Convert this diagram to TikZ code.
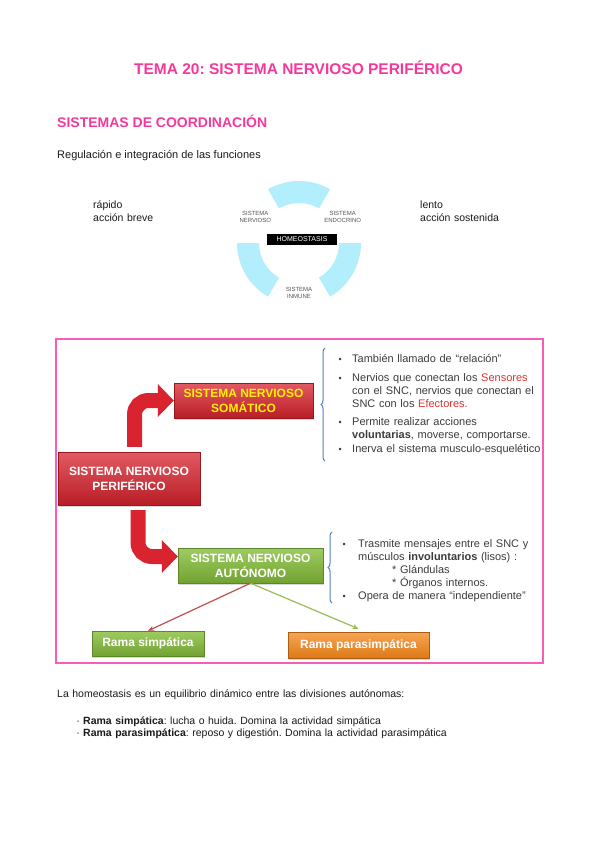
\documentclass[tikz,border=0pt]{standalone}
\usepackage{fontspec}
\setmainfont{Liberation Sans}
\usepackage{tikz}
\usetikzlibrary{positioning,arrows.meta,calc,shadows,decorations.pathreplacing}
\frenchspacing
\definecolor{ink}      {HTML}{1A1A1A}
\definecolor{hotpink}  {HTML}{F5399C}
\definecolor{pinkline} {HTML}{F55DB8}
\definecolor{ringblue} {HTML}{B2EEFC}
\definecolor{boxred}   {HTML}{D9232E}
\definecolor{boxgreen} {HTML}{86BF3A}
\definecolor{boxorange}{HTML}{F5871A}
\definecolor{lemon}    {HTML}{FFF200}
\definecolor{braceblue}{HTML}{4F81BD}
\definecolor{snred}    {HTML}{E0322F}
\definecolor{lnred}    {HTML}{C0504D}
\definecolor{lngreen}  {HTML}{9BBB59}
\definecolor{softink}  {HTML}{555555}
\tikzset{
  every node/.style={inner sep=0pt},
  % --- text
  body/.style  = {font=\fontsize{10.5}{13}\selectfont, text=ink, anchor=base west},
  para/.style  = {body, text width=200pt, align=left},
  slide/.style = {font=\fontsize{11}{13.2}\selectfont, text=ink!85, anchor=base west,
                  text width=210pt, align=left},
  bul/.style   = {font=\fontsize{9}{13}\selectfont, text=ink!85, anchor=base east},
  tiny/.style  = {font=\fontsize{6}{7}\selectfont, text=softink, align=center},
  % --- boxes
  pbox/.style     = {font=\fontsize{12}{15}\selectfont\bfseries, align=center, text=white,
                     line width=0.4pt,
                     drop shadow={opacity=.3, shadow xshift=1pt, shadow yshift=-1.5pt}},
  redbox/.style   = {pbox, top color=boxred!75!white, bottom color=boxred!85!black,
                     draw=boxred!70!black},
  greenbox/.style = {pbox, top color=boxgreen!80!white, bottom color=boxgreen!85!black,
                     draw=boxgreen!70!black},
  orangebox/.style= {pbox, top color=boxorange!75!white, bottom color=boxorange!90!black,
                     draw=boxorange!70!black},
  % --- edges
  fat/.style    = {draw=boxred, line width=15pt, rounded corners=14pt,
                   -{Triangle[length=16pt,width=32pt]}},
  branch/.style = {-{Stealth[length=6pt,width=5pt]}, line width=1.2pt},
  brc/.style    = {draw=braceblue, line width=1pt, decorate,
                   decoration={brace, amplitude=4pt}},
}

\begin{document}
\begin{tikzpicture}[x=1pt,y=1pt]
  \fill[white] (0,0) rectangle (599,-848);
  \useasboundingbox (0,0) rectangle (599,-848);

  % headings
  \node[font=\fontsize{15.5}{18}\selectfont\bfseries, text=hotpink] (title) at (298.5,-68)
    {TEMA 20: SISTEMA NERVIOSO PERIFÉRICO};
  \node[body, font=\fontsize{14}{16}\selectfont\bfseries, text=hotpink] (coord) at (57,-128)
    {SISTEMAS DE COORDINACIÓN};
  \node[body, font=\fontsize{11}{13}\selectfont] (regul) at (57,-158)
    {Regulación e integración de las funciones};
  \node[para] (fast) at (93,-208) {rápido\\acción breve};
  \node[para] (slow) at (420,-208) {lento\\acción sostenida};

  % homeostasis ring
  \coordinate (hc) at (299,-243);
  \foreach \a/\b in {60/120,180/240,300/360}
    \fill[ringblue] ($(hc)+(\a:62)$) arc[start angle=\a, end angle=\b, radius=62]
      -- ($(hc)+(\b:40)$) arc[start angle=\b, end angle=\a, radius=40] -- cycle;
  \node[tiny] (nerv) at ($(hc)+(149:51)$) {SISTEMA\\NERVIOSO};
  \node[tiny] (endo) at ($(hc)+(31:51)$) {SISTEMA\\ENDOCRINO};
  \node[tiny] (inmu) at ($(hc)+(270:50)$) {SISTEMA\\INMUNE};
  \node[fill=black, text=white, font=\fontsize{7}{8}\selectfont, minimum width=70pt,
        minimum height=11pt] (homeo) at (302,-239.5) {HOMEOSTASIS};

  % slide
  \draw[pinkline, line width=1.6pt] (56,-339) rectangle (543,-663);
  \node[redbox, minimum width=142pt, minimum height=53pt] (pns) at (129,-478.5)
    {SISTEMA NERVIOSO\\PERIFÉRICO};
  \node[redbox, text=lemon, minimum width=139pt, minimum height=35pt] (som) at (243.5,-400.5)
    {SISTEMA NERVIOSO\\SOMÁTICO};
  \node[greenbox, minimum width=145pt, minimum height=35pt] (aut) at (250.5,-565.5)
    {SISTEMA NERVIOSO\\AUTÓNOMO};
  \node[greenbox, minimum width=112pt, minimum height=25pt] (rsimp) at (148,-643.5)
    {Rama simpática};
  \node[orangebox, minimum width=141pt, minimum height=26pt] (rpara) at (358.5,-645)
    {Rama parasimpática};

  \draw[fat, shorten <=5pt] ([xshift=5.5pt]pns.north) |- (som.west);
  \draw[fat, shorten <=5pt] ([xshift=9pt]pns.south) |- ([yshift=9pt]aut.west);
  \draw[branch, lnred] (aut.south) -- (rsimp.north);
  \draw[branch, lngreen] (aut.south) -- ([yshift=3pt]rpara.north);

  % somatic notes
  \node[slide] (s1) at (352,-362) {También llamado de “relación”};
  \node[slide] (s2) at (352,-381) {Nervios que conectan los \textcolor{snred}{Sensores}\\
    con el SNC, nervios que conectan el\\SNC con los \textcolor{snred}{Efectores.}};
  \node[slide] (s3) at (352,-425) {Permite realizar acciones\\
    \textbf{voluntarias}, moverse, comportarse.};
  \node[slide] (s4) at (352,-452) {Inerva el sistema musculo-esquelético};
  \foreach \n in {s1,s2,s3,s4}
    \node[bul] at ([xshift=-10pt]\n.base west) {•};
  \draw[brc] (325,-461) -- (325,-348);

  % autonomic notes
  \node[slide] (a1) at (358,-547) {Trasmite mensajes entre el SNC y\\
    músculos \textbf{involuntarios} (lisos) :\\
    \hspace*{34pt}* Glándulas\\\hspace*{34pt}* Órganos internos.};
  \node[slide] (a2) at (358,-599) {Opera de manera “independiente”};
  \foreach \n in {a1,a2}
    \node[bul] at ([xshift=-12pt]\n.base west) {•};
  \draw[brc] (332,-603) -- (332,-532);

  % closing text
  \node[para, text width=450pt] (homtxt) at (57,-697)
    {La homeostasis es un equilibrio dinámico entre las divisiones autónomas:};
  \node[para, text width=450pt] (li1) at (83,-724)
    {\textbf{Rama simpática}: lucha o huida. Domina la actividad simpática};
  \node[para, text width=450pt] (li2) at (83,-736)
    {\textbf{Rama parasimpática}: reposo y digestión. Domina la actividad parasimpática};
  \foreach \n in {li1,li2}
    \node[body, anchor=base east] at ([xshift=-3pt]\n.base west) {·};
\end{tikzpicture}
\end{document}
